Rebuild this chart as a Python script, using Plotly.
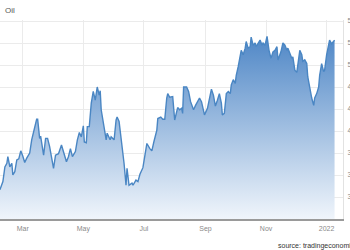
import plotly.graph_objects as go

dates = [
    "2021-02-06", "2021-02-09", "2021-02-11", "2021-02-13", "2021-02-14", "2021-02-16", "2021-02-18", "2021-02-19",
    "2021-02-21", "2021-02-23", "2021-02-25", "2021-02-27", "2021-03-01", "2021-03-03", "2021-03-05", "2021-03-08",
    "2021-03-10", "2021-03-12", "2021-03-15", "2021-03-16", "2021-03-18", "2021-03-19", "2021-03-22", "2021-03-24",
    "2021-03-26", "2021-03-28", "2021-03-30", "2021-04-01", "2021-04-03", "2021-04-06", "2021-04-09", "2021-04-11",
    "2021-04-14", "2021-04-16", "2021-04-18", "2021-04-20", "2021-04-23", "2021-04-25", "2021-04-27", "2021-04-29",
    "2021-05-01", "2021-05-02", "2021-05-04", "2021-05-05", "2021-05-07", "2021-05-09", "2021-05-11", "2021-05-13",
    "2021-05-15", "2021-05-17", "2021-05-18", "2021-05-19", "2021-05-22", "2021-05-24", "2021-05-25", "2021-05-28",
    "2021-05-29", "2021-06-01", "2021-06-03", "2021-06-04", "2021-06-06", "2021-06-09", "2021-06-11", "2021-06-13",
    "2021-06-14", "2021-06-16", "2021-06-19", "2021-06-20", "2021-06-23", "2021-06-25", "2021-06-27", "2021-06-30",
    "2021-07-02", "2021-07-04", "2021-07-07", "2021-07-09", "2021-07-11", "2021-07-14", "2021-07-15", "2021-07-18",
    "2021-07-20", "2021-07-22", "2021-07-24", "2021-07-25", "2021-07-27", "2021-07-30", "2021-08-01", "2021-08-04",
    "2021-08-06", "2021-08-08", "2021-08-09", "2021-08-10", "2021-08-13", "2021-08-15", "2021-08-17", "2021-08-20",
    "2021-08-22", "2021-08-26", "2021-08-28", "2021-08-31", "2021-09-03", "2021-09-05", "2021-09-07", "2021-09-09",
    "2021-09-11", "2021-09-13", "2021-09-15", "2021-09-17", "2021-09-18", "2021-09-20", "2021-09-22", "2021-09-24",
    "2021-09-26", "2021-09-27", "2021-09-29", "2021-10-01", "2021-10-02", "2021-10-04", "2021-10-06", "2021-10-07",
    "2021-10-09", "2021-10-11", "2021-10-12", "2021-10-14", "2021-10-16", "2021-10-17", "2021-10-19", "2021-10-21",
    "2021-10-22", "2021-10-24", "2021-10-26", "2021-10-28", "2021-10-29", "2021-10-31", "2021-11-02", "2021-11-04",
    "2021-11-06", "2021-11-08", "2021-11-10", "2021-11-12", "2021-11-13", "2021-11-16", "2021-11-18", "2021-11-20",
    "2021-11-22", "2021-11-23", "2021-11-25", "2021-11-27", "2021-11-28", "2021-11-30", "2021-12-02", "2021-12-03",
    "2021-12-05", "2021-12-07", "2021-12-08", "2021-12-10", "2021-12-12", "2021-12-13", "2021-12-15", "2021-12-17",
    "2021-12-19", "2021-12-20", "2021-12-22", "2021-12-24", "2021-12-25", "2021-12-27", "2021-12-29", "2021-12-30",
    "2022-01-01", "2022-01-03", "2022-01-04", "2022-01-06", "2022-01-08", "2022-01-09",
]

prices = [
    3300, 3410, 3610, 3660, 3750, 3610, 3660, 3500,
    3545, 3705, 3720, 3830, 3760, 3670, 3730, 3800,
    3980, 4090, 4260, 4260, 4000, 4030, 3770, 4000,
    4000, 3890, 3730, 3590, 3770, 3790, 3910, 3820,
    3680, 3750, 3860, 3750, 3820, 3980, 4080, 4020,
    4170, 3950, 3940, 4160, 4160, 4480, 4640, 4520,
    4700, 4590, 4650, 4390, 4110, 3980, 4070, 3980,
    4020, 3980, 4250, 4290, 4230, 3910, 3660, 3360,
    3590, 3360, 3390, 3360, 3430, 3410, 3510, 3600,
    3770, 3930, 3860, 3830, 3950, 4110, 4270, 4290,
    4260, 4260, 4550, 4610, 4560, 4570, 4250, 4420,
    4390, 4410, 4340, 4700, 4700, 4640, 4500, 4390,
    4450, 4550, 4500, 4320, 4410, 4550, 4670, 4590,
    4440, 4520, 4610, 4480, 4320, 4340, 4610, 4640,
    4610, 4730, 4800, 4750, 4860, 4980, 5140, 5200,
    5140, 5230, 5320, 5230, 5250, 5380, 5270, 5300,
    5250, 5300, 5340, 5270, 5300, 5270, 5390, 5200,
    5090, 5180, 5200, 5250, 5070, 5180, 5300, 5270,
    5200, 5230, 5160, 5090, 5110, 4930, 4900, 4980,
    5200, 5140, 5050, 5070, 5020, 4840, 4680, 4550,
    4450, 4550, 4610, 4700, 4860, 5020, 4910, 4930,
    5140, 5250, 5340, 5290, 5320, 5340,
]

x_tick_vals = ["2021-03-01", "2021-05-01", "2021-07-01", "2021-09-01", "2021-11-01", "2022-01-01"]
x_tick_text = ["Mar", "May", "Jul", "Sep", "Nov", "2022"]
y_tick_vals = [3200, 3500, 3800, 4100, 4400, 4700, 5000, 5300, 5600]
y_tick_text = ["3200", "3500", "3800", "4100", "4400", "4700", "5000", "5300", "5600"]

fig = go.Figure()
fig.add_trace(go.Scatter(
    x=dates, y=prices, mode="lines",
    line=dict(color="#4a86c3", width=1.4),
    fill="tozeroy",
    fillgradient=dict(
        type="vertical",
        start=2900, stop=5600,
        colorscale=[[0, "rgb(240,245,251)"], [1, "rgb(66,126,194)"]],
    ),
    hoverinfo="skip",
))

fig.update_layout(
    width=350, height=250,
    margin=dict(l=0, r=7, t=20, b=31, autoexpand=False),
    paper_bgcolor="white", plot_bgcolor="white",
    showlegend=False,
    font=dict(family="Liberation Sans, Arial, sans-serif", size=7, color="#888"),
    xaxis=dict(
        type="date",
        range=["2021-02-06 02:00", "2022-01-17 12:00"],
        tickvals=x_tick_vals, ticktext=x_tick_text,
        showgrid=True, gridcolor="#ebebeb", gridwidth=1,
        showline=True, linecolor="#9a9a9a", linewidth=1.5,
        ticks="", tickfont=dict(size=7, color="#8a8a8a"),
        ticklabelstandoff=2,
        zeroline=False, fixedrange=True,
    ),
    yaxis=dict(
        range=[2900, 5614],
        side="right",
        tickvals=y_tick_vals, ticktext=y_tick_text,
        showgrid=True, gridcolor="#ebebeb", gridwidth=1,
        showline=True, linecolor="#e2e2e2", linewidth=1,
        ticks="", tickfont=dict(size=7, color="#8a8a8a"),
        ticklabelstandoff=2,
        zeroline=False, fixedrange=True,
    ),
    annotations=[
        dict(text="Oil", xref="paper", yref="paper", x=0, y=1.05, xshift=3,
             xanchor="left", yanchor="middle", showarrow=False,
             font=dict(size=8, color="#555")),
        dict(text="source: tradingeconomics.com", xref="paper", yref="paper",
             x=0, xshift=276, y=-0.137, xanchor="left", yanchor="middle",
             showarrow=False, font=dict(size=7, color="#333")),
    ],
)

fig.write_html("out.html", config={"displayModeBar": False})
